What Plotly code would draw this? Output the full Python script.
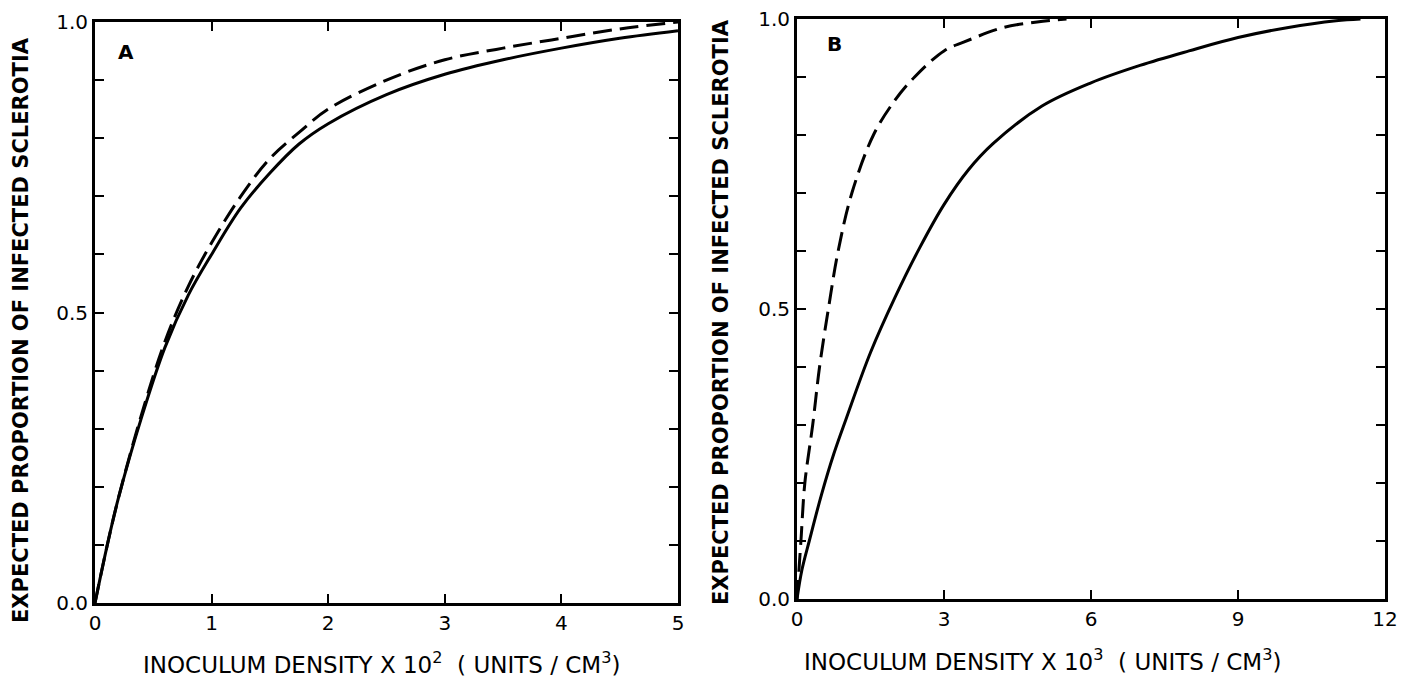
import plotly.graph_objects as go

# Panel A (x in units of 10^2 / cm^3)
a_solid_x = [0, 0.1, 0.2, 0.4, 0.6, 0.8, 1.0, 1.25, 1.5, 1.75, 2.0, 2.5, 3.0, 3.5, 4.0, 4.5, 5.0]
a_solid_y = [0, 0.095, 0.18, 0.32, 0.44, 0.53, 0.60, 0.68, 0.74, 0.79, 0.825, 0.875, 0.91, 0.935, 0.955, 0.972, 0.985]
a_dash_x = [0, 0.1, 0.2, 0.4, 0.6, 0.8, 1.0, 1.25, 1.5, 1.75, 2.0, 2.5, 3.0, 3.5, 4.0, 4.5, 5.0]
a_dash_y = [0, 0.095, 0.18, 0.325, 0.45, 0.545, 0.62, 0.70, 0.765, 0.81, 0.85, 0.90, 0.935, 0.955, 0.972, 0.988, 1.0]

# Panel B (x in units of 10^3 / cm^3)
b_solid_x = [0, 0.1, 0.25, 0.5, 0.75, 1.0, 1.5, 2.0, 2.5, 3.0, 3.5, 4.0, 5.0, 6.0, 7.0, 8.0, 9.0, 10.0, 11.0, 11.5]
b_solid_y = [0, 0.05, 0.10, 0.18, 0.25, 0.31, 0.425, 0.52, 0.605, 0.68, 0.74, 0.785, 0.85, 0.89, 0.92, 0.945, 0.968, 0.985, 0.997, 1.0]
b_dash_x = [0, 0.08, 0.16, 0.32, 0.46, 0.64, 0.84, 1.12, 1.56, 2.0, 2.4, 3.0, 3.4, 4.2, 4.9, 5.5]
b_dash_y = [0, 0.1, 0.2, 0.3, 0.4, 0.5, 0.6, 0.7, 0.8, 0.86, 0.9, 0.945, 0.96, 0.985, 0.995, 1.0]

a_xticks = [0, 1, 2, 3, 4, 5]
a_xlabels = ["0", "1", "2", "3", "4", "5"]
b_xticks = [0, 3, 6, 9, 12]
b_xlabels = ["0", "3", "6", "9", "12"]
y_ticks = [0.0, 0.1, 0.2, 0.3, 0.4, 0.5, 0.6, 0.7, 0.8, 0.9, 1.0]
y_labels = ["0.0", "", "", "", "", "0.5", "", "", "", "", "1.0"]

y_title = "<b>EXPECTED PROPORTION OF INFECTED SCLEROTIA</b>"
a_xtitle = "INOCULUM DENSITY X 10<sup>2</sup>  ( UNITS / CM<sup>3</sup>)"
b_xtitle = "INOCULUM DENSITY X 10<sup>3</sup>  ( UNITS / CM<sup>3</sup>)"

# page body has an 8px margin; the figure fills the rest of the 1412x679 window
OFF = 8
W, H = 1412 - OFF, 679 - OFF
FONT = "DejaVu Sans"

def px(v):
    return (v - OFF) / W

def py(v):
    return 1 - (v - OFF) / H

fig = go.Figure()
line_solid = dict(color="black", width=3)
line_dash = dict(color="black", width=3, dash="19px,8px")

fig.add_trace(go.Scatter(x=a_solid_x, y=a_solid_y, mode="lines", line=dict(**line_solid, shape="spline"), xaxis="x", yaxis="y", showlegend=False))
fig.add_trace(go.Scatter(x=a_dash_x, y=a_dash_y, mode="lines", line=dict(**line_dash, shape="spline"), xaxis="x", yaxis="y", showlegend=False))
fig.add_trace(go.Scatter(x=b_solid_x, y=b_solid_y, mode="lines", line=dict(**line_solid, shape="spline"), xaxis="x2", yaxis="y2", showlegend=False))
fig.add_trace(go.Scatter(x=b_dash_x, y=b_dash_y, mode="lines", line=dict(**line_dash, shape="spline"), xaxis="x2", yaxis="y2", showlegend=False))

ax_common = dict(showgrid=False, zeroline=False, showline=True, linecolor="black", linewidth=3,
                 mirror="ticks", ticks="inside", ticklen=9, tickwidth=2, tickcolor="black",
                 automargin=False, ticklabeloverflow="allow",
                 tickfont=dict(family=FONT, size=20, color="black"))

fig.update_layout(
    width=W, height=H,
    margin=dict(l=0, r=0, t=0, b=0, autoexpand=False),
    paper_bgcolor="white", plot_bgcolor="white",
    xaxis=dict(domain=[px(95), px(678)], range=[0, 5], tickvals=a_xticks, ticktext=a_xlabels,
               anchor="y", **ax_common),
    yaxis=dict(domain=[py(603), py(22)], range=[0, 1], tickvals=y_ticks, ticktext=y_labels,
               anchor="x", **ax_common),
    xaxis2=dict(domain=[px(797), px(1385)], range=[0, 12], tickvals=b_xticks, ticktext=b_xlabels,
                anchor="y2", **ax_common),
    yaxis2=dict(domain=[py(599), py(19)], range=[0, 1], tickvals=y_ticks, ticktext=y_labels,
                anchor="x2", **ax_common),
)

ann_font = dict(family=FONT, size=23, color="black")
yt_font = dict(family=FONT, size=21, color="black")
annotations = [
    dict(text=y_title, x=px(21), y=py(330), textangle=-90, font=yt_font),
    dict(text=y_title, x=px(721), y=py(312), textangle=-90, font=yt_font),
    dict(text=a_xtitle, x=px(382), y=py(663), font=ann_font),
    dict(text=b_xtitle, x=px(1042), y=py(660), font=ann_font),
    dict(text="<b>A</b>", x=px(126), y=py(52), font=dict(family=FONT, size=20, color="black")),
    dict(text="<b>B</b>", x=px(834), y=py(44), font=dict(family=FONT, size=20, color="black")),
]
for a in annotations:
    a.update(xref="paper", yref="paper", showarrow=False, xanchor="center", yanchor="middle")
    fig.add_annotation(**a)

fig.write_html("out.html")
